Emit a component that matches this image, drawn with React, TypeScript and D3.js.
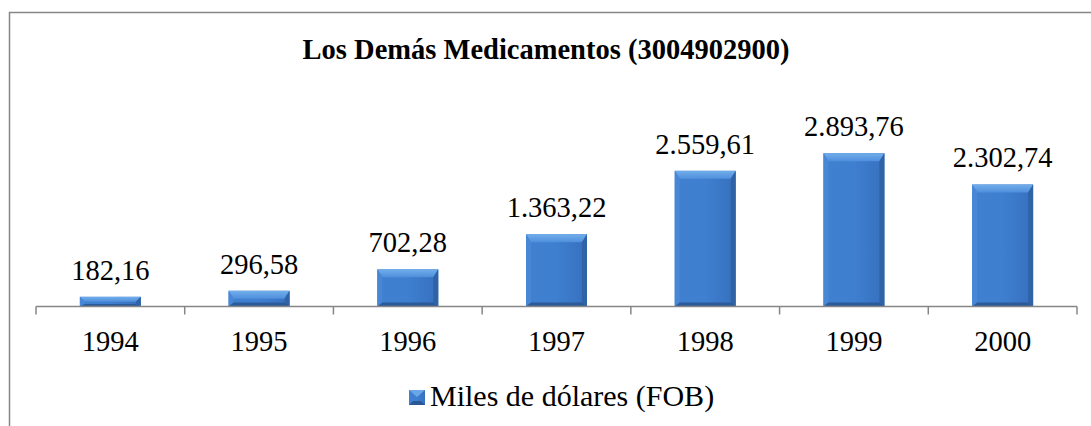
import React from "react";
import * as d3 from "d3";

const years = ["1994", "1995", "1996", "1997", "1998", "1999", "2000"];
const values = [182.16, 296.58, 702.28, 1363.22, 2559.61, 2893.76, 2302.74];
const valueLabels = ["182,16", "296,58", "702,28", "1.363,22", "2.559,61", "2.893,76", "2.302,74"];
const title = "Los Demás Medicamentos (3004902900)";
const seriesName = "Miles de dólares (FOB)";

const width = 1091;
const height = 426;
const axisY = 306.5;
const font = "Liberation Serif";
const gray = "#868686";

const App = () => {
  const xScale = d3.scaleBand<string>().domain(years).range([36, 1077]).padding(0);
  const yScale = d3.scaleLinear().domain([0, 3500]).range([axisY, 121]);
  const barW = xScale.bandwidth() * 0.41;
  const bev = 8;
  const side = 5;
  const txt = { fontFamily: font, fontSize: "28.5px" };

  return (
    <svg width={width} height={height} style={{ position: "absolute", left: 0, top: 0, background: "#fff" }}>
      <defs>
        <linearGradient id="face" x1="0" x2="1" y1="0" y2="0">
          <stop offset="0" stopColor="#4080cf" />
          <stop offset="0.5" stopColor="#3f7fd0" />
          <stop offset="1" stopColor="#3670bd" />
        </linearGradient>
        <linearGradient id="topBev" x1="0" x2="0" y1="0" y2="1">
          <stop offset="0" stopColor="#72aeeb" />
          <stop offset="1" stopColor="#4f8fdc" />
        </linearGradient>
      </defs>
      {/* outer border, cut off on the right and bottom */}
      <rect x={9.5} y={12.5} width={1200} height={600} fill="none" stroke={gray} strokeWidth={1.5} />

      <text x={546} y={59} textAnchor="middle" style={{ ...txt, fontWeight: "bold" }} fill="#000">
        {title}
      </text>

      {years.map((yr, i) => {
        const cx = xScale(yr)! + xScale.bandwidth() / 2;
        const x0 = cx - barW / 2;
        const x1 = cx + barW / 2;
        const top = yScale(values[i]);
        const bot = yScale(0);
        const h = bot - top;
        const b = Math.min(bev, h / 2);
        const s = Math.min(side, barW / 2);
        return (
          <g key={yr}>
            <rect x={x0} y={top} width={barW} height={h} fill="url(#face)" />
            {/* top bevel */}
            <polygon points={`${x0},${top} ${x1},${top} ${x1 - s},${top + b} ${x0 + s},${top + b}`} fill="url(#topBev)" />
            {/* left bevel */}
            <polygon points={`${x0},${top} ${x0 + s},${top + b} ${x0 + s},${bot - b * 0.5} ${x0},${bot}`} fill="#4787d6" />
            {/* right bevel */}
            <polygon points={`${x1},${top} ${x1 - s},${top + b} ${x1 - s},${bot - b * 0.5} ${x1},${bot}`} fill="#2f63a6" />
            {/* bottom bevel */}
            <polygon points={`${x0},${bot} ${x1},${bot} ${x1 - s},${bot - b * 0.5} ${x0 + s},${bot - b * 0.5}`} fill="#2c5b9a" />
            <text x={cx} y={top - 17} textAnchor="middle" style={txt} fill="#000">
              {valueLabels[i]}
            </text>
            <text x={cx} y={351} textAnchor="middle" style={txt} fill="#000">
              {yr}
            </text>
          </g>
        );
      })}

      {/* category axis */}
      <line x1={36} x2={1077} y1={axisY} y2={axisY} stroke={gray} strokeWidth={1.5} />
      {years.concat(["end"]).map((yr, i) => {
        const x = 36 + i * xScale.step();
        return <line key={"t" + i} x1={x} x2={x} y1={axisY} y2={axisY + 8} stroke={gray} strokeWidth={1.5} />;
      })}

      {/* legend */}
      <g>
        <rect x={409} y={390} width={16} height={15} fill="url(#face)" />
        <polygon points="409,390 425,390 417,397" fill="#6aa6e8" />
        <polygon points="409,405 425,405 421,401 413,401" fill="#2a5896" />
        <text x={430} y={406} style={{ fontFamily: font, fontSize: "30px" }} fill="#000">
          {seriesName}
        </text>
      </g>
    </svg>
  );
};

export default App;
